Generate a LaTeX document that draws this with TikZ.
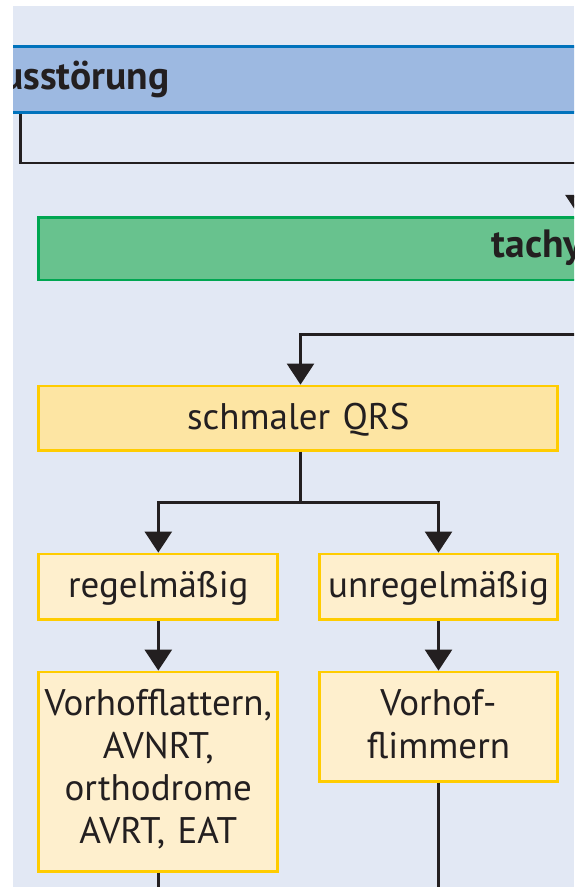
\documentclass[tikz,border=0pt]{standalone}
\usepackage{fontspec}
\setmainfont{PT Sans}
\usetikzlibrary{arrows.meta}
\definecolor{panel}{HTML}{E2E8F4}
\definecolor{barfill}{HTML}{9DB9E1}
\definecolor{barline}{HTML}{0072BC}
\definecolor{tachyfill}{HTML}{68C28E}
\definecolor{tachyline}{HTML}{00A651}
\definecolor{qrsfill}{HTML}{FDE5A3}
\definecolor{leaffill}{HTML}{FEEFCD}
\definecolor{boxline}{HTML}{FFCC00}
\definecolor{ink}{HTML}{231F20}

\begin{document}
\begin{tikzpicture}[x=1pt,y=-1pt,
  conn/.style={draw=ink, line width=2.6pt},
  flow/.style={conn, -{Triangle[width=27pt,length=21pt]}},
  basebox/.style={rectangle, line width=2.8pt, inner xsep=0pt, inner ysep=0pt,
    text=ink, font=\fontsize{37}{42.7}\selectfont, align=center, text height=43.5pt},
  qrsbox/.style={basebox, draw=boxline, fill=qrsfill},
  leafbox/.style={basebox, draw=boxline, fill=leaffill},
  bandbox/.style={basebox, align=left, font=\fontsize{39.5}{46}\selectfont\bfseries},
]
\useasboundingbox (0,0) rectangle (574,887);
\fill[panel] (13,6) rectangle (574,887);

\begin{scope}
\clip (13,6) rectangle (574,887);

% header band and rhythm band
\node[bandbox, draw=barline, fill=barfill, anchor=west, text width=600pt,
      inner xsep=101pt, text depth=22.3pt] (bar) at (-100,79.3) {usstörung};
\node[bandbox, draw=tachyline, fill=tachyfill, anchor=west, text width=300pt,
      inner xsep=453pt, text height=40pt, text depth=22.7pt] (tachy) at (37.4,248.65) {tachy};

% narrow QRS branch
\node[qrsbox, text width=519pt, text depth=20.8pt] (qrs) at (298.3,418.15) {schmaler QRS};
\node[leafbox, text width=239pt, text depth=21.8pt] (reg) at (158.3,586.65) {regelmäßig};
\node[leafbox, text width=238.6pt, text depth=21.8pt] (unreg) at (438.5,586.65) {unregelmäßig};
\node[leafbox, text width=239pt, text depth=155.8pt] (flatter) at (158.3,771.65)
  {Vorhofflattern,\\AVNRT,\\orthodrome\\AVRT, EAT};
\node[leafbox, text width=238.6pt, text depth=65.8pt] (flimmer) at (438.5,726.65)
  {Vorhof-\\flimmern};

% routing points
\coordinate (drop) at (20.5,163);
\coordinate (railend) at (620,163);
\coordinate (tachydrop) at (579,163);
\coordinate (feed) at (620,334.5);
\coordinate (stem) at (300.5,0);
\coordinate (fork) at (0,502.5);
\coordinate (flatterout) at (158.3,900);
\coordinate (flimmerout) at (438.5,900);

% connectors
\draw[conn] (bar.south -| drop) -- (drop) -- (railend);
\draw[flow] (tachydrop) -- (tachy.north -| tachydrop);
\draw[flow] (feed) -| (stem |- qrs.north);
\draw[conn] (stem |- qrs.south) -- (stem |- fork);
\draw[flow] (stem |- fork) -| (reg.north);
\draw[flow] (stem |- fork) -| (unreg.north);
\draw[flow] (reg.south) -- (flatter.north);
\draw[flow] (unreg.south) -- (flimmer.north);
\draw[conn] (flatter.south) -- (flatterout);
\draw[conn] (flimmer.south) -- (flimmerout);
\end{scope}
\end{tikzpicture}
\end{document}
